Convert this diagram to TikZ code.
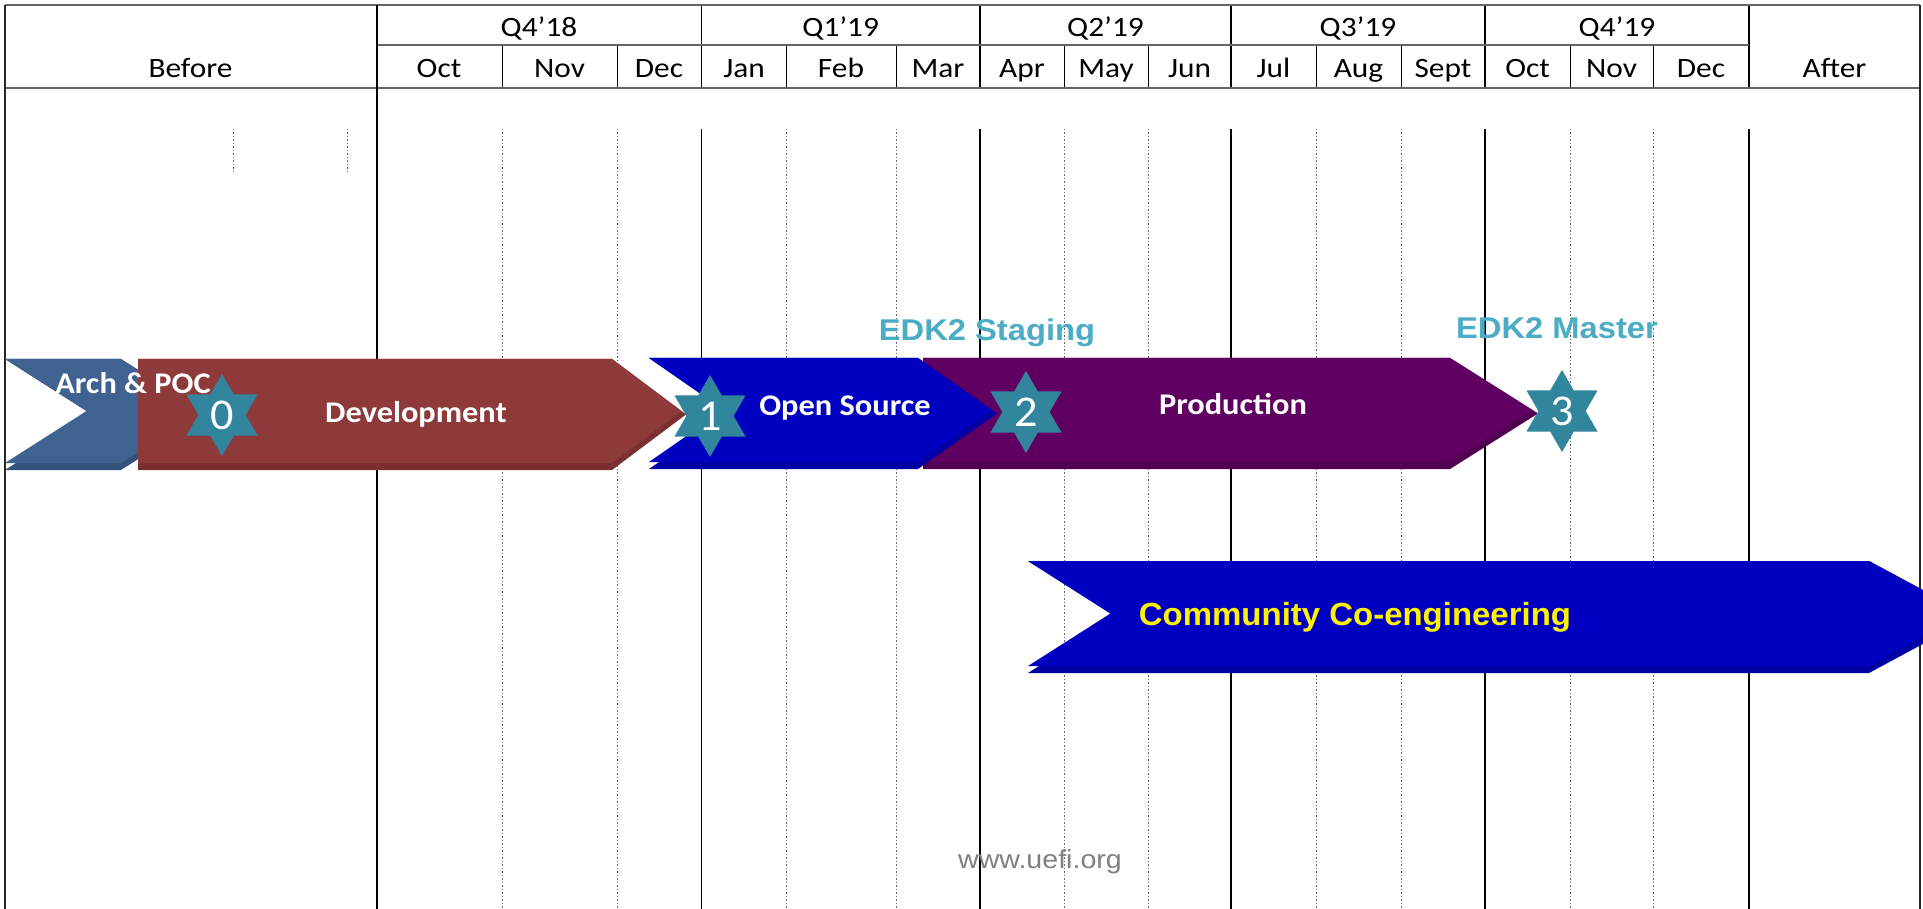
\documentclass[tikz,border=0pt]{standalone}
\usepackage{fontspec}
\usetikzlibrary{shapes.geometric}
\newfontfamily\hdrfont[FakeStretch=1.12]{Carlito}
\newfontfamily\lblfont[FakeStretch=1.08]{Carlito}
\newfontfamily\starfont[FakeStretch=1.05]{Carlito}
\newfontfamily\edkfont[FakeStretch=1.09]{Liberation Sans}
\newfontfamily\comfont[FakeStretch=1.03]{Liberation Sans}
\newfontfamily\urlfont[FakeStretch=1.1]{Liberation Sans}
\definecolor{archc}{HTML}{3F6291}
\definecolor{archd}{HTML}{34527A}
\definecolor{devc}{HTML}{8E3A3A}
\definecolor{devd}{HTML}{7A3030}
\definecolor{osc}{HTML}{0000C0}
\definecolor{osd}{HTML}{0000A4}
\definecolor{prodc}{HTML}{600060}
\definecolor{prodd}{HTML}{510051}
\definecolor{starc}{HTML}{31859C}
\definecolor{edkc}{HTML}{4BACC6}
\definecolor{urlc}{HTML}{808080}
% #1 left x, #2 notch depth, #3 right corner x, #4 tip depth, #5 top y, #6 bottom y, #7 colour, #8 shadow colour
\newcommand\chevron[8]{%
  \fill[#8] (#1,#5) -- (#3,#5) -- ({#3+#4},{(#5+#6)/2}) -- (#3,#6) -- (#1,#6) -- ({#1+#2},{(#5+#6)/2}) -- cycle;
  \fill[#7] (#1,#5) -- (#3,#5) -- ({#3+#4*(1-7/(#6-#5))},{(#5+#6-7)/2}) -- (#3,{#6-7}) -- (#1,{#6-7}) -- ({#1+#2*(1-7/(#6-#5))},{(#5+#6-7)/2}) -- cycle;
}
\begin{document}
\begin{tikzpicture}[x=1pt,y=-1pt,
  border/.style={line width=2.4pt,draw=black!85},
  hline/.style={line width=1.8pt,draw=black!60},
  qline/.style={line width=1.5pt,draw=black},
  mline/.style={line width=1pt,draw=black},
  dotline/.style={line width=0.9pt,draw=black!60,dash pattern=on 1.5pt off 2pt},
  hdr/.style={anchor=base,inner sep=0pt,font=\hdrfont\fontsize{28}{30}\selectfont},
  lbl/.style={anchor=base,inner sep=0pt,text=white,font=\lblfont\bfseries\fontsize{30}{32}\selectfont},
  edk/.style={anchor=base,inner sep=0pt,text=edkc,font=\edkfont\bfseries\fontsize{30}{32}\selectfont},
  com/.style={anchor=base,inner sep=0pt,text=yellow,font=\comfont\bfseries\fontsize{32}{34}\selectfont},
  url/.style={anchor=base,inner sep=0pt,text=urlc,font=\urlfont\fontsize{26}{28}\selectfont},
  starsh/.style={star,star points=6,star point ratio=1.732,minimum size=82pt,inner sep=0pt,
    fill=starc,text=white,font=\starfont\fontsize{44}{44}\selectfont}]
\useasboundingbox (0,0) rectangle (1923,909);
\clip (0,0) rectangle (1923,909);
\fill[white] (0,0) rectangle (1923,909);

% ---------- grid ----------
\foreach \x in {502,617,786,896.5,1064.5,1148,1316,1401,1570,1653}{
  \draw[dotline] (\x,129) -- (\x,909);
  \draw[mline] (\x,45) -- (\x,88);
}
\foreach \x in {233,347}{ \draw[dotline] (\x,129) -- (\x,172); }
\foreach \x in {701.5,980,1231,1485,1749}{
  \draw[qline] (\x,129) -- (\x,909);
  \draw[qline] (\x,5) -- (\x,88);
}
\draw[hline] (376.5,45) -- (1749,45);
\draw[hline] (5,88) -- (1920,88);
\draw[hline] (5,5) -- (1920,5);
\draw[border] (5,5) -- (5,909);
\draw[border] (1920,5) -- (1920,909);
\draw[line width=2pt] (376.5,5) -- (376.5,909);

% ---------- header texts ----------
\node[hdr] (before) at (190.5,78) {Before};
\node[hdr] (after) at (1834.5,78) {After};
\node[hdr] (q1) at (539,37) {Q4’18};
\node[hdr] (q2) at (840.7,37) {Q1’19};
\node[hdr] (q3) at (1105.5,37) {Q2’19};
\node[hdr] (q4) at (1358,37) {Q3’19};
\node[hdr] (q5) at (1617,37) {Q4’19};
\foreach \x/\m [count=\i] in {439/Oct,559.5/Nov,659/Dec,744/Jan,841/Feb,938/Mar,1022/Apr,1106/May,1189.5/Jun,1273.5/Jul,1358.5/Aug,1443/Sept,1527.5/Oct,1611.5/Nov,1701/Dec}{
  \node[hdr] (m\i) at (\x,78) {\m};
}

% ---------- chevrons ----------
\chevron{5}{87}{121}{87}{359}{470}{archc}{archd}
\chevron{138}{0}{612}{74}{359}{470}{devc}{devd}
\chevron{923}{0}{1450}{88}{358}{469}{prodc}{prodd}
\chevron{649}{80}{918}{79}{358}{469}{osc}{osd}
\chevron{1028}{88}{1869}{104}{561}{673}{osc}{osd}

% ---------- milestones ----------
\node[starsh] (s0) at (222,415) {0};
\node[starsh] (s1) at (710,416) {1};
\node[starsh] (s2) at (1026,412) {2};
\node[starsh] (s3) at (1562,411) {3};

% ---------- labels ----------
\node[lbl] (tarch) at (133,393) {Arch \& POC};
\node[lbl] (tdev) at (416,422) {Development};
\node[lbl] (tos) at (845,415) {Open Source};
\node[lbl] (tprod) at (1233,414) {Production};
\node[edk] (tstg) at (987,341) {EDK2 Staging};
\node[edk] (tmst) at (1557,339) {EDK2 Master};
\node[com] (tcom) at (1355,625) {Community Co-engineering};
\node[url] (turl) at (1040,868) {www.uefi.org};
\end{tikzpicture}
\end{document}
